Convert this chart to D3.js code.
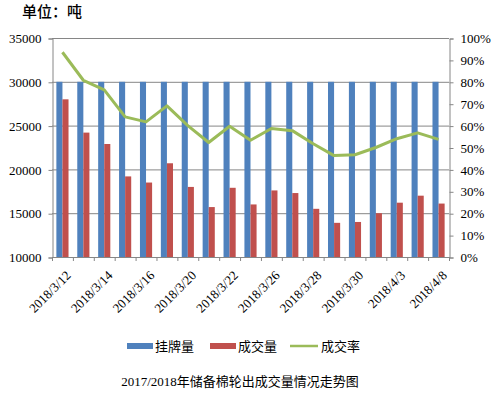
<!DOCTYPE html>
<html lang="zh">
<head>
    <meta charset="UTF-8">
    <title>储备棉轮出成交</title>
    <script src="https://d3js.org/d3.v7.min.js"></script>
    <style>
        body { margin: 0; background: #fff; }
        text { font-family: "Liberation Serif", "Noto Sans CJK SC", serif; fill: #000; }
        .cjk { font-family: "Noto Sans CJK SC", sans-serif; }
    </style>
</head>
<body>
<script>
    // data
    let dates = ["2018/3/12","2018/3/13","2018/3/14","2018/3/15","2018/3/16","2018/3/19","2018/3/20",
        "2018/3/21","2018/3/22","2018/3/23","2018/3/26","2018/3/27","2018/3/28","2018/3/29","2018/3/30",
        "2018/4/2","2018/4/3","2018/4/4","2018/4/8"];
    let listed = [30000,30000,30000,30000,30000,30000,30000,30000,30000,30000,
        30000,30000,30000,30000,30000,30000,30000,30000,30000];
    let dealt = [28000,24200,22900,19200,18500,20700,18000,15700,17900,16000,
        17600,17300,15500,13900,14000,15000,16200,17000,16100];
    let rate = [0.935,0.807,0.763,0.64,0.617,0.69,0.60,0.523,0.597,0.533,
        0.587,0.577,0.517,0.463,0.467,0.50,0.54,0.567,0.537];
    let leftTicks = [10000,15000,20000,25000,30000,35000];
    let rightTicks = [0,0.1,0.2,0.3,0.4,0.5,0.6,0.7,0.8,0.9,1];
    let seriesNames = ["挂牌量","成交量","成交率"];
    let colors = ["#4F81BD","#C0504D","#9BBB59"];

    let W = 496, H = 397;
    let plotL = 52, plotR = 449, plotT = 38, plotB = 257;
    let axisColor = "#868686";

    let svg = d3.select("body").append("svg")
        .attr("width", W)
        .attr("height", H);

    let x = d3.scaleBand().domain(dates).range([plotL, plotR]);
    let inner = d3.scaleBand().domain(["l","d"]).range([0, x.bandwidth()])
        .paddingInner(0).paddingOuter(0.72);
    let y = d3.scaleLinear().domain([10000,35000]).range([plotB, plotT]);
    let y2 = d3.scaleLinear().domain([0,1]).range([plotB, plotT]);

    // gridlines
    svg.append("g").selectAll("line").data(leftTicks.slice(1))
        .enter().append("line")
        .attr("x1", plotL).attr("x2", plotR)
        .attr("y1", d => y(d) + 0.5).attr("y2", d => y(d) + 0.5)
        .style("stroke", axisColor).style("stroke-width", 1);

    // bars
    let g = svg.append("g");
    g.selectAll("rect.l").data(dates).enter().append("rect")
        .attr("class", "l")
        .attr("x", (d) => x(d) + inner("l"))
        .attr("width", inner.bandwidth())
        .attr("y", (d, i) => y(listed[i]))
        .attr("height", (d, i) => plotB - y(listed[i]))
        .style("fill", colors[0]);
    g.selectAll("rect.d").data(dates).enter().append("rect")
        .attr("class", "d")
        .attr("x", (d) => x(d) + inner("d"))
        .attr("width", inner.bandwidth())
        .attr("y", (d, i) => y(dealt[i]))
        .attr("height", (d, i) => plotB - y(dealt[i]))
        .style("fill", colors[1]);

    // rate line
    let line = d3.line()
        .x((d, i) => x(dates[i]) + x.bandwidth() / 2)
        .y(d => y2(d));
    svg.append("path").datum(rate)
        .attr("d", line)
        .style("fill", "none")
        .style("stroke", colors[2])
        .style("stroke-width", 3)
        .style("stroke-linejoin", "round");

    // left axis
    let la = svg.append("g")
        .attr("transform", `translate(${plotL + 0.5},0.5)`)
        .call(d3.axisLeft(y).tickValues(leftTicks).tickSize(4).tickPadding(7).tickFormat(d3.format("d")));
    la.selectAll("path, line").style("stroke", axisColor);
    la.selectAll("text").style("font-size", "13px").style("font-family", "Liberation Serif");

    // right axis
    let ra = svg.append("g")
        .attr("transform", `translate(${plotR + 0.5},0.5)`)
        .call(d3.axisRight(y2).tickValues(rightTicks).tickSize(4).tickPadding(7).tickFormat(d3.format(".0%")));
    ra.selectAll("path, line").style("stroke", axisColor);
    ra.selectAll("text").style("font-size", "13px").style("font-family", "Liberation Serif");

    // bottom axis
    let ba = svg.append("g");
    ba.append("line")
        .attr("x1", plotL).attr("x2", plotR)
        .attr("y1", plotB + 0.5).attr("y2", plotB + 0.5)
        .style("stroke", axisColor);
    ba.selectAll("line.tk").data(dates.concat([null])).enter().append("line")
        .attr("class", "tk")
        .attr("x1", (d, i) => (d ? x(d) : plotR) + 0.5)
        .attr("x2", (d, i) => (d ? x(d) : plotR) + 0.5)
        .attr("y1", plotB).attr("y2", plotB + 4)
        .style("stroke", axisColor);
    ba.selectAll("text").data(dates.filter((d, i) => i % 2 === 0)).enter().append("text")
        .attr("transform", d => `translate(${x(d) + x.bandwidth() / 2 + 6},${plotB + 16}) rotate(-45)`)
        .attr("text-anchor", "end")
        .attr("dy", "0.35em")
        .style("font-size", "13px")
        .text(d => d);

    // legend
    let legend = svg.append("g").attr("transform", "translate(127,346)");
    let legX = [0, 83, 163];
    seriesNames.forEach(function (name, i) {
        let lg = legend.append("g").attr("transform", `translate(${legX[i]},0)`);
        if (i < 2) {
            lg.append("rect").attr("x", 0).attr("y", -3).attr("width", 26).attr("height", 6)
                .style("fill", colors[i]);
        } else {
            lg.append("line").attr("x1", 0).attr("x2", 28).attr("y1", 0).attr("y2", 0)
                .style("stroke", colors[i]).style("stroke-width", 2.5);
        }
        lg.append("text").attr("class", "cjk")
            .attr("x", i < 2 ? 28 : 31).attr("dy", "0.36em")
            .style("font-size", "13px")
            .text(name);
    });

    // unit and title
    svg.append("text").attr("class", "cjk")
        .attr("x", 22).attr("y", 17)
        .style("font-size", "15px")
        .style("font-weight", "500")
        .text("单位：吨");

    svg.append("text")
        .attr("x", 240).attr("y", 386)
        .attr("text-anchor", "middle")
        .style("font-size", "13px")
        .text("2017/2018年储备棉轮出成交量情况走势图");
</script>
</body>
</html>
